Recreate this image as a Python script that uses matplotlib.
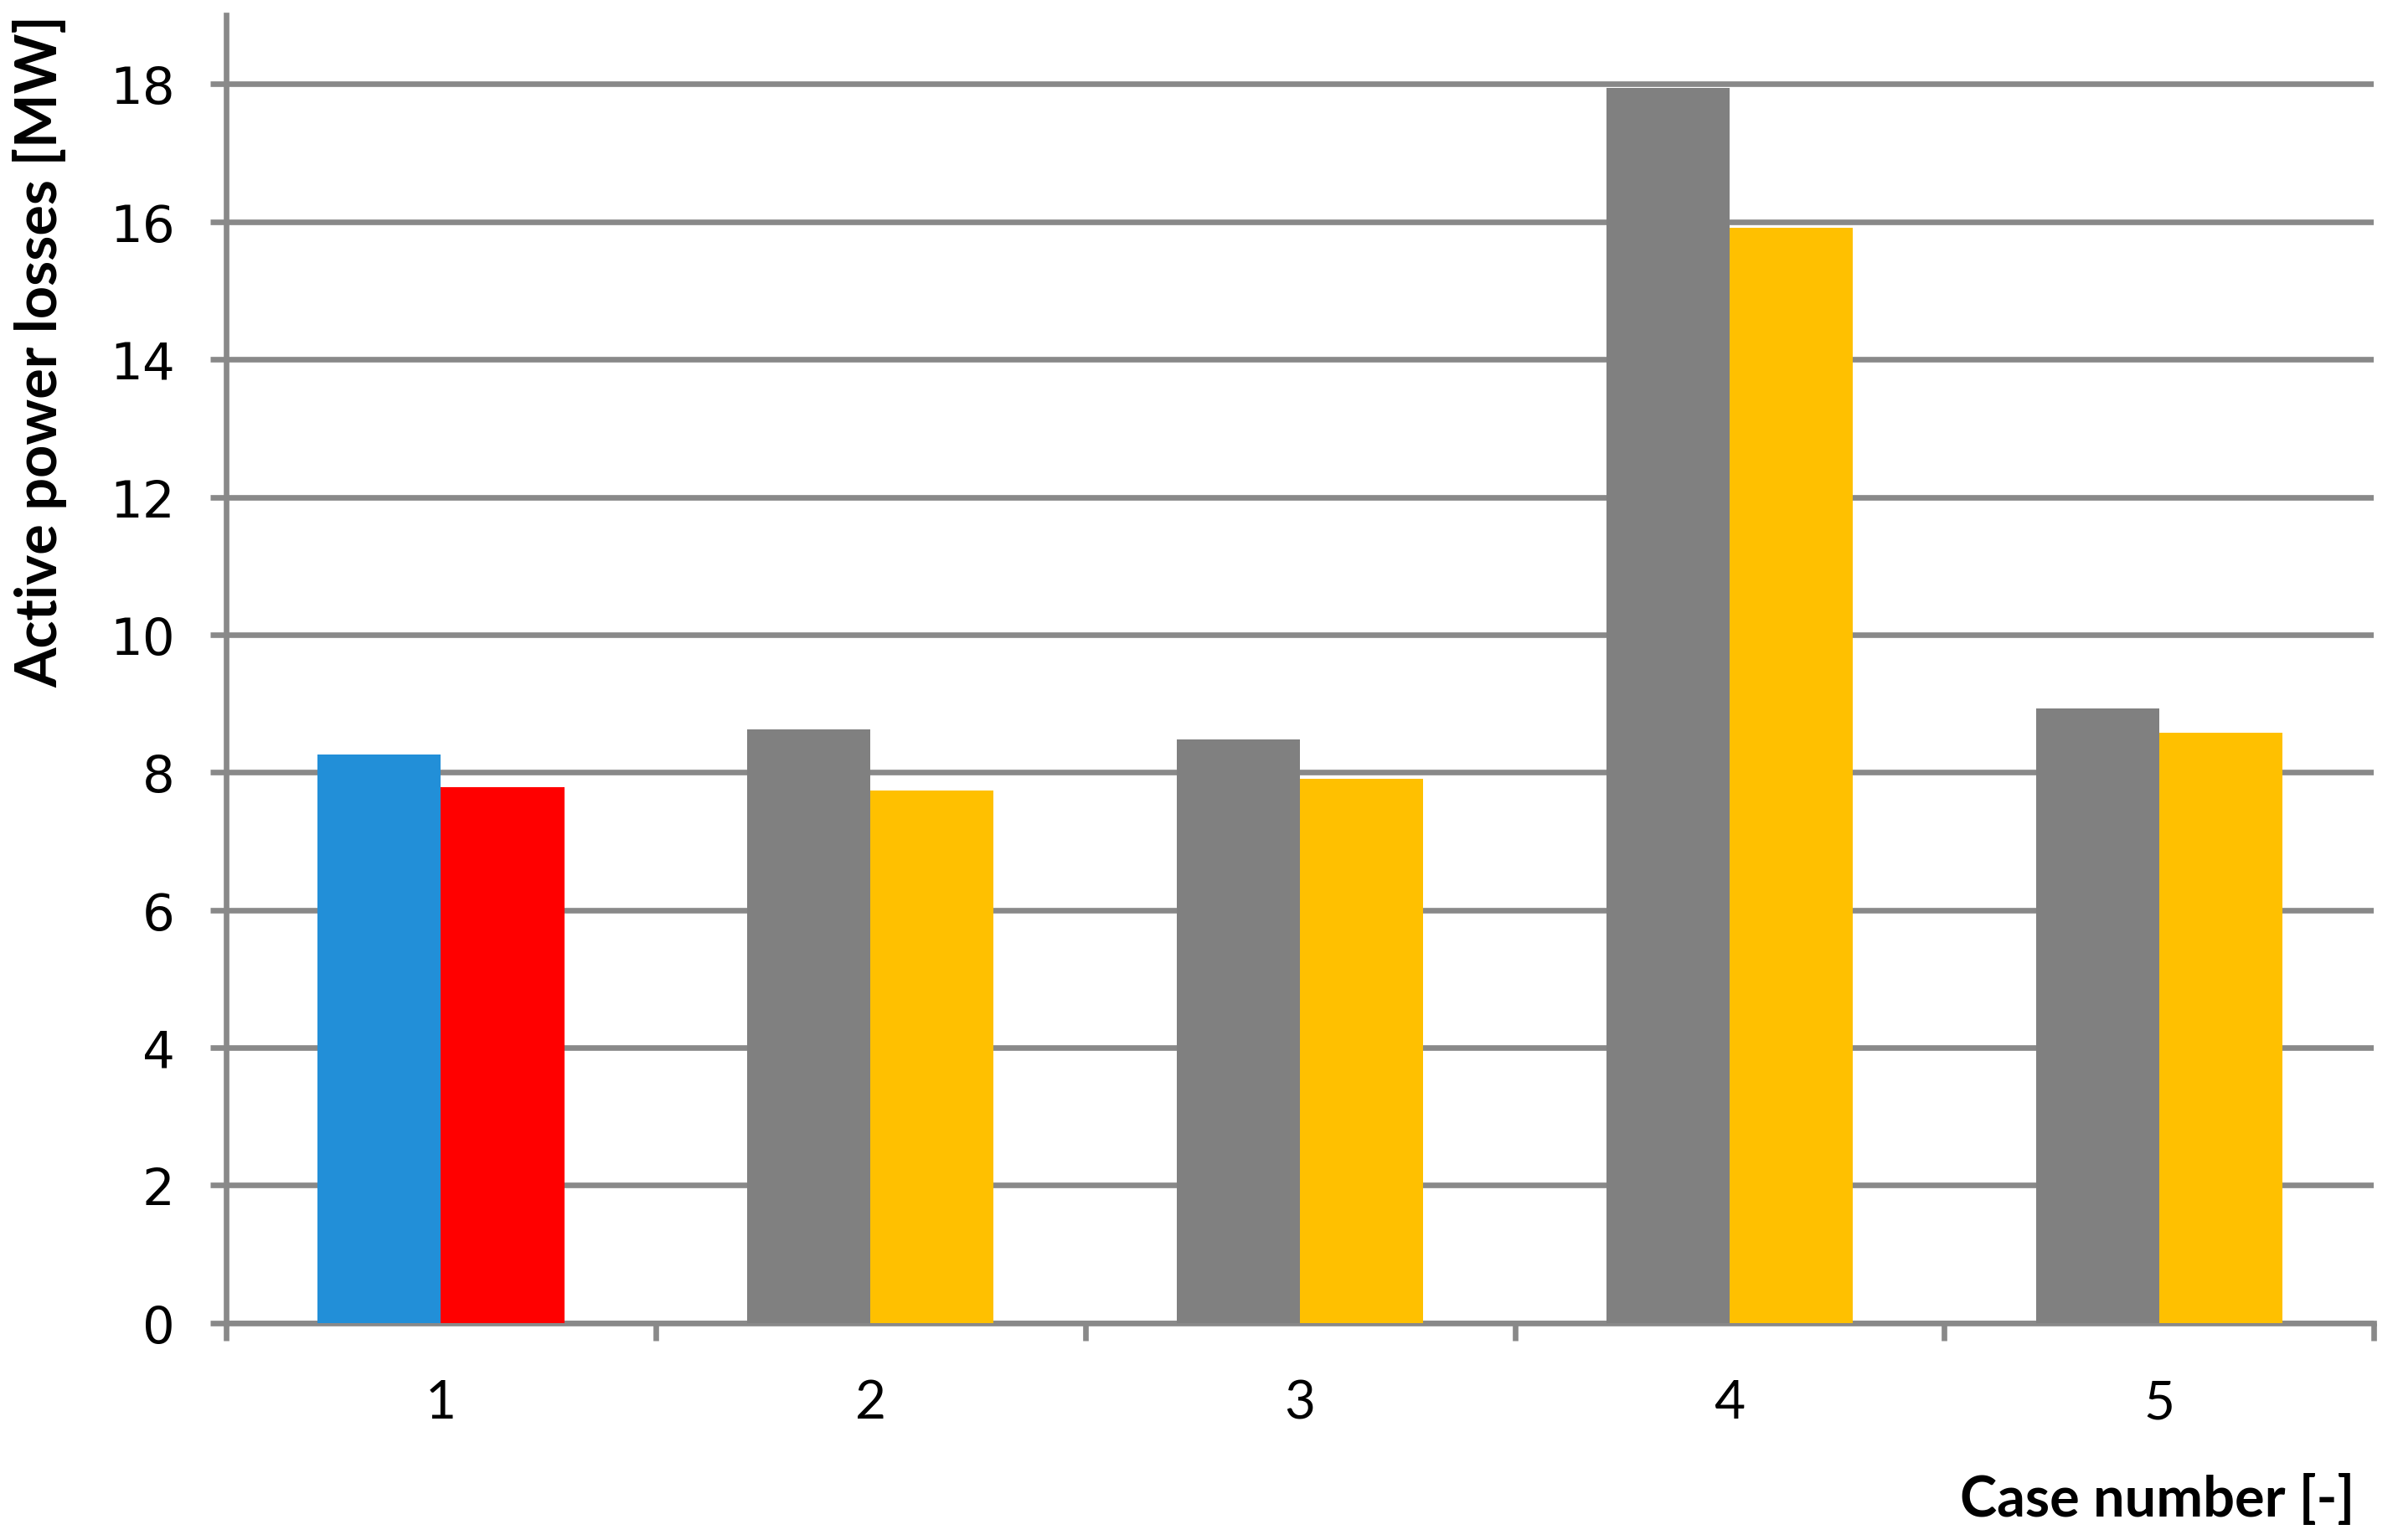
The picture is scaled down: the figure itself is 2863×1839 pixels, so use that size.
import numpy as np
import matplotlib
matplotlib.use("Agg")
import matplotlib.pyplot as plt

cases = ["1", "2", "3", "4", "5"]
first_vals = [8.26, 8.62, 8.48, 17.95, 8.93]
second_vals = [7.78, 7.73, 7.91, 15.91, 8.57]
first_colors = ["#228FD8", "#808080", "#808080", "#808080", "#808080"]
second_colors = ["#FF0000", "#FFC000", "#FFC000", "#FFC000", "#FFC000"]
y_ticks = [0, 2, 4, 6, 8, 10, 12, 14, 16, 18]

axis_grey = "#898989"

fig = plt.figure(figsize=(14.315, 9.2), dpi=200)
ax = fig.add_axes([0.0943, 0.141, 0.8957, 0.8485])

x = np.arange(len(cases))
w = 0.287
ax.bar(x - w / 2, first_vals, width=w, color=first_colors, zorder=3)
ax.bar(x + w / 2, second_vals, width=w, color=second_colors, zorder=3)

ax.set_xlim(-0.5, len(cases) - 0.5)
ax.set_ylim(0, 19)
ax.set_yticks(y_ticks)
ax.yaxis.grid(True, color=axis_grey, linewidth=2.4, zorder=0)
ax.set_axisbelow(True)

for s in ["top", "right"]:
    ax.spines[s].set_visible(False)
for s in ["left", "bottom"]:
    ax.spines[s].set_color(axis_grey)
    ax.spines[s].set_linewidth(2.4)

ax.set_xticks(x)
ax.set_xticklabels(cases, fontfamily="Lato", fontsize=23)
ax.set_xticks(np.arange(-0.5, len(cases)), minor=True)
ax.tick_params(axis="x", which="major", length=0, pad=24)
ax.tick_params(axis="x", which="minor", length=7.5, width=2.4, color=axis_grey, direction="out")
ax.tick_params(axis="y", length=7, width=2.4, color=axis_grey, pad=15, labelsize=22)
for lab in ax.get_yticklabels():
    lab.set_fontfamily("DejaVu Sans")

ax.set_ylabel("Active power losses [MW]", fontfamily="Lato", fontweight="bold", fontsize=24.6)
ax.yaxis.set_label_coords(-0.074, 0.7435)
fig.text(0.982, 0.026, "Case number [-]", ha="right", va="center",
         fontfamily="Lato", fontweight="bold", fontsize=24)

fig.savefig("out.png", dpi=200, facecolor="white")
